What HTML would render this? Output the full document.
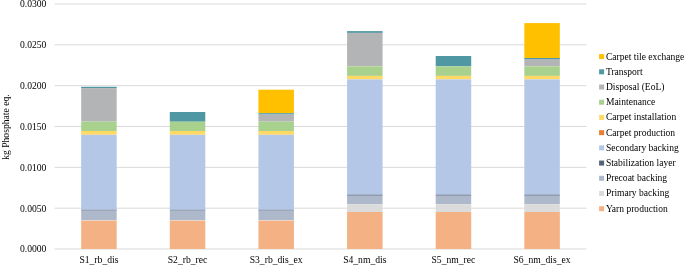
<!DOCTYPE html>
<html><head><meta charset="utf-8"><title>chart</title>
<style>
html,body{margin:0;padding:0;background:#fff;}
body{width:685px;height:266px;overflow:hidden;}
svg{display:block;}
text.l{font-size:9.55px}
text{font-family:"Liberation Serif","Times New Roman",serif;font-size:9.65px;fill:#000;}
</style></head><body>
<svg width="685" height="266" viewBox="0 0 685 266">
<rect x="0" y="0" width="685" height="266" fill="#fff"/>

<rect x="54.6" y="248.50" width="531.80" height="1" fill="#D9D9D9"/>
<rect x="54.6" y="207.67" width="531.80" height="1" fill="#D9D9D9"/>
<rect x="54.6" y="166.83" width="531.80" height="1" fill="#D9D9D9"/>
<rect x="54.6" y="126.00" width="531.80" height="1" fill="#D9D9D9"/>
<rect x="54.6" y="85.17" width="531.80" height="1" fill="#D9D9D9"/>
<rect x="54.6" y="44.33" width="531.80" height="1" fill="#D9D9D9"/>
<rect x="54.6" y="3.50" width="531.80" height="1" fill="#D9D9D9"/>
<rect x="81.17" y="86.80" width="35.5" height="1.30" fill="#4F97A3"/>
<rect x="81.17" y="88.10" width="35.5" height="33.50" fill="#B3B4B6"/>
<rect x="81.17" y="121.60" width="35.5" height="9.40" fill="#A9D18E"/>
<rect x="81.17" y="131.00" width="35.5" height="3.80" fill="#FFD966"/>
<rect x="81.17" y="134.80" width="35.5" height="75.00" fill="#B4C7E7"/>
<rect x="81.17" y="209.80" width="35.5" height="0.80" fill="#52617A"/>
<rect x="81.17" y="210.60" width="35.5" height="9.40" fill="#ADB9CA"/>
<rect x="81.17" y="220.00" width="35.5" height="0.70" fill="#DBDBDB"/>
<rect x="81.17" y="220.70" width="35.5" height="28.30" fill="#F4B183"/>
<rect x="169.80" y="112.00" width="35.5" height="9.70" fill="#4F97A3"/>
<rect x="169.80" y="121.70" width="35.5" height="9.30" fill="#A9D18E"/>
<rect x="169.80" y="131.00" width="35.5" height="3.80" fill="#FFD966"/>
<rect x="169.80" y="134.80" width="35.5" height="75.00" fill="#B4C7E7"/>
<rect x="169.80" y="209.80" width="35.5" height="0.80" fill="#52617A"/>
<rect x="169.80" y="210.60" width="35.5" height="9.40" fill="#ADB9CA"/>
<rect x="169.80" y="220.00" width="35.5" height="0.70" fill="#DBDBDB"/>
<rect x="169.80" y="220.70" width="35.5" height="28.30" fill="#F4B183"/>
<rect x="258.43" y="89.70" width="35.5" height="23.50" fill="#FFC000"/>
<rect x="258.43" y="113.20" width="35.5" height="1.40" fill="#4F97A3"/>
<rect x="258.43" y="114.60" width="35.5" height="7.00" fill="#B3B4B6"/>
<rect x="258.43" y="121.60" width="35.5" height="9.40" fill="#A9D18E"/>
<rect x="258.43" y="131.00" width="35.5" height="3.80" fill="#FFD966"/>
<rect x="258.43" y="134.80" width="35.5" height="75.00" fill="#B4C7E7"/>
<rect x="258.43" y="209.80" width="35.5" height="0.80" fill="#52617A"/>
<rect x="258.43" y="210.60" width="35.5" height="9.40" fill="#ADB9CA"/>
<rect x="258.43" y="220.00" width="35.5" height="0.70" fill="#DBDBDB"/>
<rect x="258.43" y="220.70" width="35.5" height="28.30" fill="#F4B183"/>
<rect x="347.07" y="31.10" width="35.5" height="1.80" fill="#4F97A3"/>
<rect x="347.07" y="32.90" width="35.5" height="33.45" fill="#B3B4B6"/>
<rect x="347.07" y="66.35" width="35.5" height="9.55" fill="#A9D18E"/>
<rect x="347.07" y="75.90" width="35.5" height="3.50" fill="#FFD966"/>
<rect x="347.07" y="79.40" width="35.5" height="115.30" fill="#B4C7E7"/>
<rect x="347.07" y="194.70" width="35.5" height="1.00" fill="#52617A"/>
<rect x="347.07" y="195.70" width="35.5" height="8.50" fill="#ADB9CA"/>
<rect x="347.07" y="204.20" width="35.5" height="7.80" fill="#DBDBDB"/>
<rect x="347.07" y="212.00" width="35.5" height="37.00" fill="#F4B183"/>
<rect x="435.70" y="56.00" width="35.5" height="10.30" fill="#4F97A3"/>
<rect x="435.70" y="66.30" width="35.5" height="9.60" fill="#A9D18E"/>
<rect x="435.70" y="75.90" width="35.5" height="3.50" fill="#FFD966"/>
<rect x="435.70" y="79.40" width="35.5" height="115.30" fill="#B4C7E7"/>
<rect x="435.70" y="194.70" width="35.5" height="1.00" fill="#52617A"/>
<rect x="435.70" y="195.70" width="35.5" height="8.50" fill="#ADB9CA"/>
<rect x="435.70" y="204.20" width="35.5" height="7.80" fill="#DBDBDB"/>
<rect x="435.70" y="212.00" width="35.5" height="37.00" fill="#F4B183"/>
<rect x="524.33" y="23.10" width="35.5" height="34.90" fill="#FFC000"/>
<rect x="524.33" y="58.00" width="35.5" height="1.60" fill="#4F97A3"/>
<rect x="524.33" y="59.60" width="35.5" height="6.75" fill="#B3B4B6"/>
<rect x="524.33" y="66.35" width="35.5" height="9.55" fill="#A9D18E"/>
<rect x="524.33" y="75.90" width="35.5" height="3.50" fill="#FFD966"/>
<rect x="524.33" y="79.40" width="35.5" height="115.30" fill="#B4C7E7"/>
<rect x="524.33" y="194.70" width="35.5" height="1.00" fill="#52617A"/>
<rect x="524.33" y="195.70" width="35.5" height="8.50" fill="#ADB9CA"/>
<rect x="524.33" y="204.20" width="35.5" height="7.80" fill="#DBDBDB"/>
<rect x="524.33" y="212.00" width="35.5" height="37.00" fill="#F4B183"/>
<text x="46.4" y="252.40" text-anchor="end">0.0000</text>
<text x="46.4" y="211.57" text-anchor="end">0.0050</text>
<text x="46.4" y="170.73" text-anchor="end">0.0100</text>
<text x="46.4" y="129.90" text-anchor="end">0.0150</text>
<text x="46.4" y="89.07" text-anchor="end">0.0200</text>
<text x="46.4" y="48.23" text-anchor="end">0.0250</text>
<text x="46.4" y="7.40" text-anchor="end">0.0300</text>
<text x="98.92" y="263.2" text-anchor="middle">S1_rb_dis</text>
<text x="187.55" y="263.2" text-anchor="middle">S2_rb_rec</text>
<text x="276.18" y="263.2" text-anchor="middle">S3_rb_dis_ex</text>
<text x="364.82" y="263.2" text-anchor="middle">S4_nm_dis</text>
<text x="453.45" y="263.2" text-anchor="middle">S5_nm_rec</text>
<text x="542.08" y="263.2" text-anchor="middle">S6_nm_dis_ex</text>
<text transform="translate(9.2,127.1) rotate(-90)" text-anchor="middle">kg Phosphate eq.</text>
<rect x="599.1" y="54.10" width="5" height="5" fill="#FFC000"/>
<text class="l" x="605.9" y="59.60">Carpet tile exchange</text>
<rect x="599.1" y="69.31" width="5" height="5" fill="#4F97A3"/>
<text class="l" x="605.9" y="74.81">Transport</text>
<rect x="599.1" y="84.52" width="5" height="5" fill="#B3B4B6"/>
<text class="l" x="605.9" y="90.02">Disposal (EoL)</text>
<rect x="599.1" y="99.73" width="5" height="5" fill="#A9D18E"/>
<text class="l" x="605.9" y="105.23">Maintenance</text>
<rect x="599.1" y="114.94" width="5" height="5" fill="#FFD966"/>
<text class="l" x="605.9" y="120.44">Carpet installation</text>
<rect x="599.1" y="130.15" width="5" height="5" fill="#ED7D31"/>
<text class="l" x="605.9" y="135.65">Carpet production</text>
<rect x="599.1" y="145.36" width="5" height="5" fill="#B4C7E7"/>
<text class="l" x="605.9" y="150.86">Secondary backing</text>
<rect x="599.1" y="160.57" width="5" height="5" fill="#52617A"/>
<text class="l" x="605.9" y="166.07">Stabilization layer</text>
<rect x="599.1" y="175.78" width="5" height="5" fill="#ADB9CA"/>
<text class="l" x="605.9" y="181.28">Precoat backing</text>
<rect x="599.1" y="190.99" width="5" height="5" fill="#DBDBDB"/>
<text class="l" x="605.9" y="196.49">Primary backing</text>
<rect x="599.1" y="206.20" width="5" height="5" fill="#F4B183"/>
<text class="l" x="605.9" y="211.70">Yarn production</text>
</svg></body></html>
